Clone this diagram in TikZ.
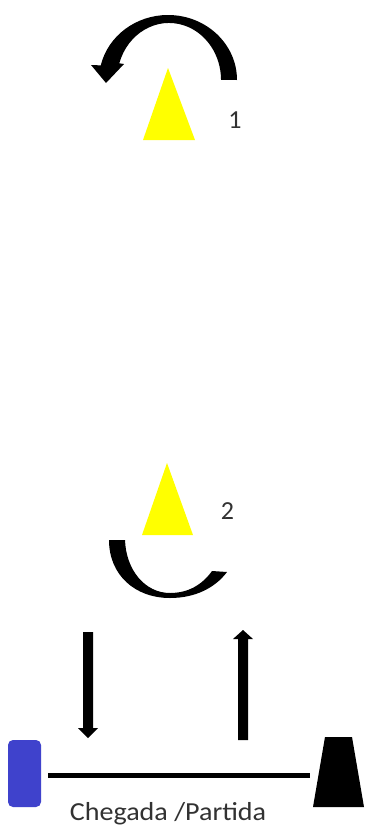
\documentclass[tikz,border=0pt]{standalone}
\usepackage{fontspec}
\setmainfont{Carlito}
\definecolor{coneyellow}{RGB}{255,255,0}
\definecolor{markblue}{RGB}{63,66,204}
\definecolor{txtgray}{RGB}{50,50,50}
\begin{document}
\begin{tikzpicture}[x=1pt,y=1pt,
  blackfill/.style={fill=black,draw=none},
  cone/.style={fill=coneyellow,draw=none},
  lbl/.style={text=txtgray,inner sep=0pt}]
\useasboundingbox (0,0) rectangle (364,-827);
\fill[white] (0,0) rectangle (364,-827);
% top curved arrow
\fill[blackfill] (237,-80) arc[start angle=0,end angle=167,x radius=69,y radius=65]
  -- (91,-65) -- (106,-83) -- (124,-64) -- (119.3,-63.3)
  arc[start angle=163,end angle=0,x radius=52,y radius=57] -- cycle;
% cone 1
\fill[cone] (168,-68) -- (195,-140) -- (143,-140) -- cycle;
\node[lbl,font=\fontsize{26}{26}\selectfont] (n1) at (235,-120) {1};
% cone 2
\fill[cone] (167,-463) -- (193,-535) -- (142,-535) -- cycle;
\node[lbl,font=\fontsize{26}{26}\selectfont] (n2) at (227.5,-511) {2};
% bottom arc
\fill[blackfill] (109,-540) .. controls (109,-575) and (135,-598) .. (170,-598)
  .. controls (195,-598) and (215,-588) .. (227,-572) -- (212,-571)
  .. controls (202,-585) and (188,-593) .. (170,-593)
  .. controls (145,-593) and (126,-570) .. (125,-540) -- cycle;
% down arrow
\fill[blackfill] (83,-632) -- (93,-632) -- (93,-728) -- (98,-728) -- (88,-738)
  -- (78,-728) -- (83,-728) -- cycle;
% up arrow
\fill[blackfill] (238,-740) -- (248,-740) -- (248,-639) -- (253,-639) -- (243,-630)
  -- (233,-639) -- (238,-639) -- cycle;
% blue marker
\fill[markblue,rounded corners=5pt] (8,-740) rectangle (41,-807);
% line
\draw[line width=5pt] (48,-775) -- (310,-775);
% black trapezoid
\fill[blackfill] (325,-737) -- (352,-737) -- (364,-807) -- (313,-807) -- cycle;
% label
\node[lbl,anchor=base,xscale=1.08,font=\fontsize{26}{26}\selectfont] (cp) at (168,-820) {Chegada /Partida};
\end{tikzpicture}
\end{document}
